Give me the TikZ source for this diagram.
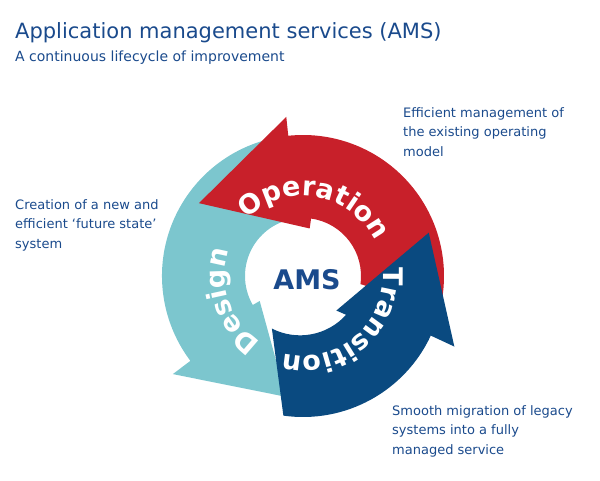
\documentclass[tikz,border=0pt]{standalone}
\usepackage{fontspec}
\setmainfont{DejaVu Sans}
\usetikzlibrary{decorations.text}
\definecolor{amsred}{HTML}{C8202A}
\definecolor{amsteal}{HTML}{7CC6CE}
\definecolor{amsblue}{HTML}{0A4A80}
\definecolor{titleblue}{HTML}{1A4A8C}
\newfontfamily\arrfont{DejaVu Sans Bold}
\tikzset{
  sidetext/.style={anchor=north west,align=left,text=titleblue,font=\fontsize{13}{19.5}\selectfont,inner sep=0},
  arrlabel/.style={decorate,decoration={text along path,text align=center,text color=white}}
}
\begin{document}
\begin{tikzpicture}[x=1pt,y=1pt]
\useasboundingbox (0,0) rectangle (600,480);
\node[anchor=west,text=titleblue,font=\fontsize{21}{24}\selectfont,inner sep=0] (title) at (15,447) {Application management services (AMS)};
\node[anchor=west,text=titleblue,font=\fontsize{14}{16}\selectfont,inner sep=0] (sub) at (15,422) {A continuous lifecycle of improvement};
\node[sidetext] (t1) at (403,373) {Efficient management of\\the existing operating\\model};
\node[sidetext] (t2) at (15,281) {Creation of a new and\\efficient ‘future state’\\system};
\node[sidetext] (t3) at (392,75) {Smooth migration of legacy\\systems into a fully\\managed service};
\begin{scope}[shift={(303,204)}]
\fill[amsteal] (100:141) arc[start angle=100,end angle=217,radius=141] -- (217:163) -- (262:122) -- (210:50) -- (210:58) arc[start angle=210,end angle=100,radius=58] -- cycle;
\fill[amsred] (-14:141) arc[start angle=-14,end angle=96,radius=141] -- (96:160) -- (145:127) -- (82:48) -- (82:58) arc[start angle=82,end angle=-8,radius=58] -- cycle;
\fill[amsblue] (262:141) arc[start angle=262,end angle=335,radius=141] -- (335:167) -- (19:133) -- (314:48) -- (318:58) arc[start angle=318,end angle=243,radius=62] -- cycle;
\path[arrlabel,decoration={text={|\arrfont\fontsize{27}{27}\selectfont|Operation}}] (140:80) arc[start angle=140,end angle=20,radius=80];
\path[arrlabel,decoration={text={|\arrfont\fontsize{27}{27}\selectfont|Transition}}] (14:80) arc[start angle=14,end angle=-112,radius=80];
\path[arrlabel,decoration={text={|\arrfont\fontsize{27}{27}\selectfont|Design}}] (238:78) arc[start angle=238,end angle=160,radius=78];
\node[text=titleblue,font=\arrfont\fontsize{27}{27}\selectfont] (ams) at (4,-4) {AMS};
\end{scope}
\end{tikzpicture}
\end{document}
